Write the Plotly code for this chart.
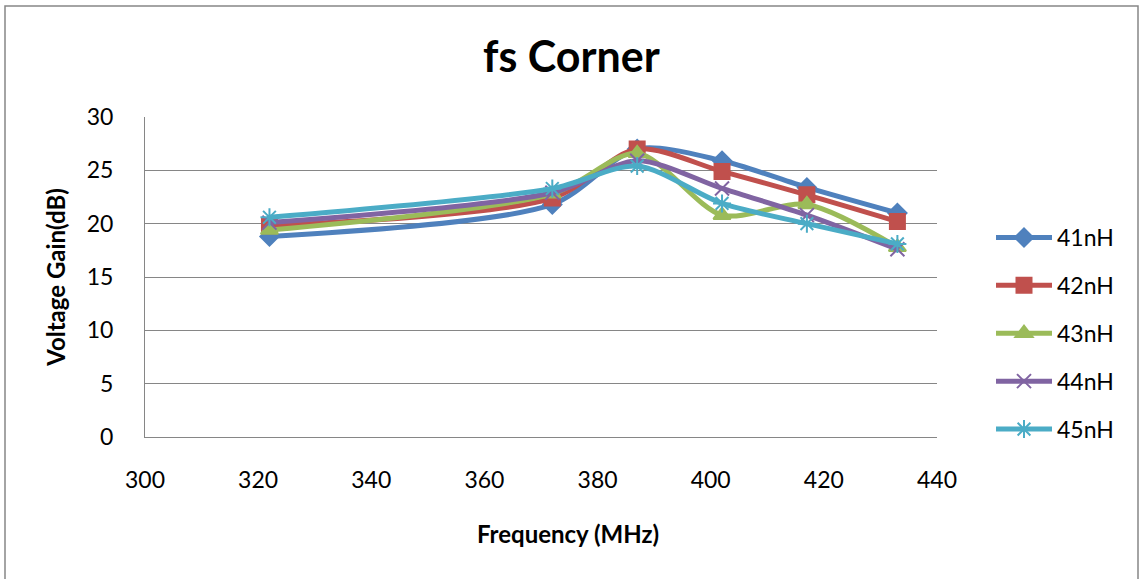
import plotly.graph_objects as go

freq_mhz = [322, 372, 387, 402, 417, 433]
series_names = ["41nH", "42nH", "43nH", "44nH", "45nH"]
gain_41nh = [18.8, 21.8, 27.0, 25.9, 23.4, 21.0]
gain_42nh = [19.8, 22.4, 27.0, 24.9, 22.7, 20.2]
gain_43nh = [19.4, 22.8, 26.6, 20.8, 21.8, 17.8]
gain_44nh = [20.1, 22.9, 25.9, 23.3, 20.8, 17.6]
gain_45nh = [20.6, 23.3, 25.4, 21.9, 20.0, 18.1]

colors = ["#4F81BD", "#C0504D", "#9BBB59", "#8064A2", "#4BACC6"]
symbols = ["diamond", "square", "triangle-up", "x-thin-open", "asterisk-open"]
sizes = [14, 15, 15, 14, 15]
all_gains = [gain_41nh, gain_42nh, gain_43nh, gain_44nh, gain_45nh]

FONT = "Lato"

fig = go.Figure()
for i, (name, ys) in enumerate(zip(series_names, all_gains)):
    fig.add_trace(go.Scatter(
        x=freq_mhz, y=ys, name=name, mode="lines+markers",
        legendgroup=name,
        line=dict(color=colors[i], width=5, shape="spline", smoothing=0.8),
        marker=dict(symbol=symbols[i], size=sizes[i], color=colors[i],
                    line=dict(color=colors[i], width=2)),
    ))

fig.update_layout(
    width=1143, height=579,
    margin=dict(l=145, r=206, t=117, b=142),
    paper_bgcolor="white", plot_bgcolor="white",
    font=dict(family=FONT, size=23, color="black"),
    title=dict(text="<b>fs Corner</b>", x=0.5, xref="container", xanchor="center",
               y=1 - 57 / 579, yanchor="middle",
               font=dict(family=FONT, size=43, color="black")),
    showlegend=True,
    legend=dict(x=1 + 54 / 792, xanchor="left", y=1 - 99 / 320, yanchor="top",
                font=dict(family=FONT, size=23), itemwidth=56,
                tracegroupgap=15, bgcolor="rgba(0,0,0,0)"),
    xaxis=dict(range=[300, 440], dtick=20, tick0=300,
               showgrid=False, zeroline=False,
               showline=True, linecolor="#868686", linewidth=1,
               ticks="", ticklabelstandoff=22,
               tickfont=dict(size=23)),
    yaxis=dict(range=[0, 30], dtick=5, tick0=0,
               showgrid=True, gridcolor="#868686", gridwidth=1,
               zeroline=False,
               showline=True, linecolor="#868686", linewidth=1,
               ticks="", ticklabelstandoff=26,
               tickfont=dict(size=23),
               title=dict(text="<b>Voltage Gain(dB)</b>", font=dict(size=24), standoff=14)),
    annotations=[dict(text="<b>Frequency (MHz)</b>", xref="paper", yref="paper",
                      x=(568 - 145) / 792, y=-(533 - 437) / 320,
                      xanchor="center", yanchor="middle", showarrow=False,
                      font=dict(family=FONT, size=24, color="black"))],
    shapes=[dict(type="rect", xref="paper", yref="paper",
                 x0=-140 / 792, x1=1 + 201 / 792,
                 y0=-150 / 320, y1=1 + 111 / 320,
                 line=dict(color="#868686", width=1.5), fillcolor="rgba(0,0,0,0)",
                 layer="below")],
)

fig.write_html("out.html")
